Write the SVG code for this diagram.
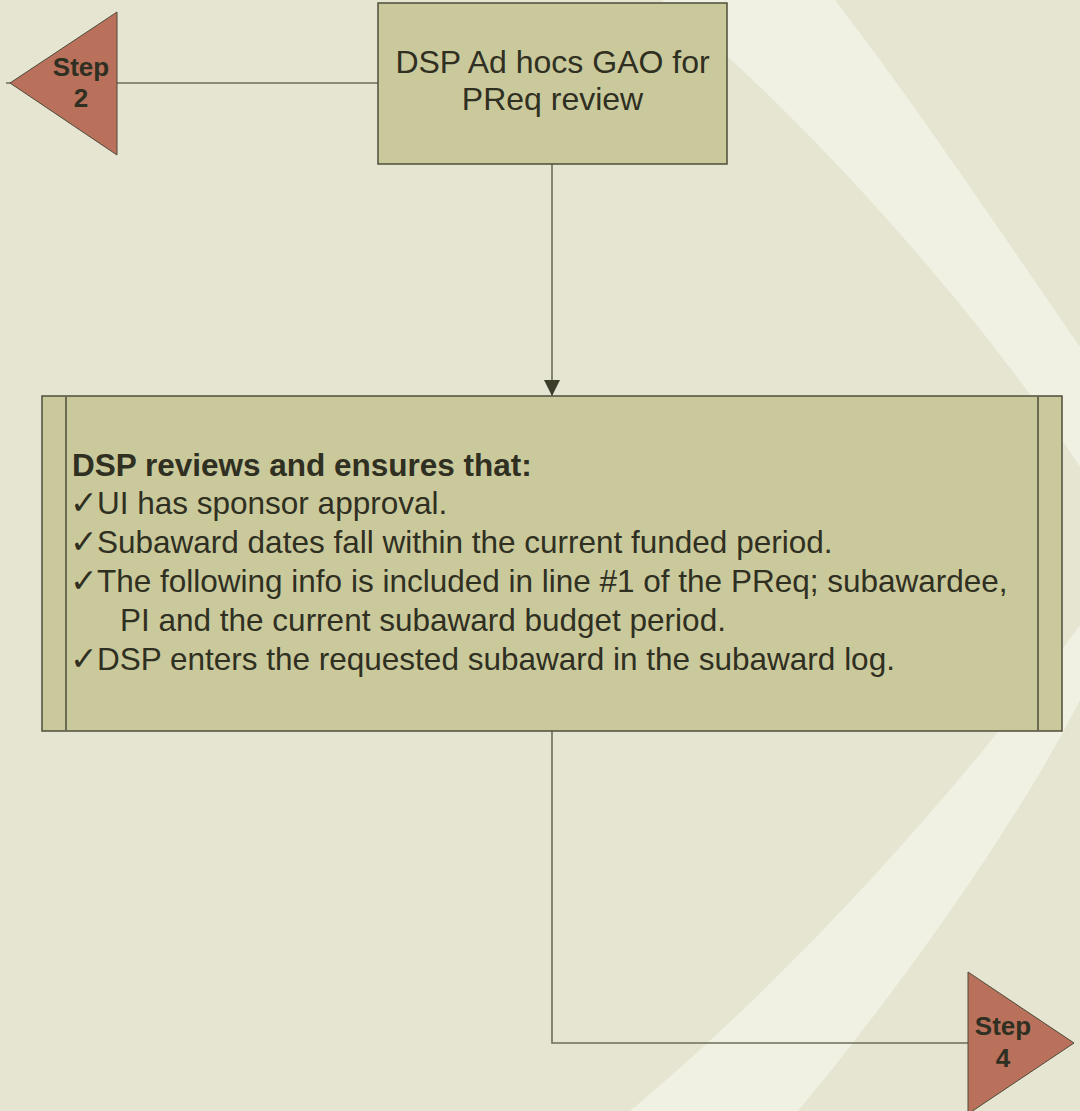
<svg xmlns="http://www.w3.org/2000/svg" width="1080" height="1111" viewBox="0 0 1080 1111">
  <defs>
    <style>
      .bg { fill: #e6e5d2; }
      .band { fill: #f0f0e3; }
      .box { fill: #cac99b; stroke: #4d4d3b; stroke-width: 1.5; }
      .inner { stroke: #6a6a52; stroke-width: 2; fill: none; }
      .step { fill: #b9715b; stroke: #4d4a3a; stroke-width: 1; }
      .wire { fill: none; stroke: #6c6c57; stroke-width: 1.6; }
      .txt { font-family: "Liberation Sans", Arial, sans-serif; fill: #2f2f22; }
      .lbl { font-size: 32px; }
      .body { font-size: 31.5px; }
      .steplbl { font-size: 26px; font-weight: bold; text-anchor: middle; }
      .check { font-family: "DejaVu Sans", sans-serif; font-size: 33px; }
    </style>
    <marker id="arrow" markerUnits="userSpaceOnUse" markerWidth="16" markerHeight="16" viewBox="0 0 14 14" refX="14" refY="7" orient="auto">
      <path d="M0,0 L14,7 L0,14 Z" fill="#3d3d2c"/>
    </marker>
  </defs>

  <!-- backdrop with the pale sweeping band -->
  <rect class="bg" x="0" y="0" width="1080" height="1111"/>
  <path class="band" d="M662,0 C810,120 985,320 1080,467 C1110,510 1110,580 1080,625 C975,770 810,960 630,1111 L798,1111 C898,991 1020,820 1080,700 C1160,600 1160,460 1080,347 C1000,231 915,104 835,0 Z"/>

  <!-- connectors -->
  <g id="connectors">
    <line class="wire" x1="378" y1="83" x2="6" y2="83"/>
    <line class="wire" x1="552" y1="164" x2="552" y2="396" marker-end="url(#arrow)"/>
    <polyline class="wire" points="552,731 552,1043 968,1043"/>
  </g>

  <!-- off-page reference: step 2 -->
  <g id="step2">
    <polygon class="step" points="10,83 117,12 117,155"/>
    <text class="txt steplbl" x="81" y="76">Step</text>
    <text class="txt steplbl" x="81" y="107">2</text>
  </g>

  <!-- ad hoc routing box -->
  <g id="adhoc">
    <rect class="box" x="378" y="3" width="349" height="161"/>
    <text class="txt lbl" text-anchor="middle" x="552.5" y="73">DSP Ad hocs GAO for</text>
    <text class="txt lbl" text-anchor="middle" x="552.5" y="110">PReq review</text>
  </g>

  <!-- review process box -->
  <g id="review">
    <rect class="box" x="42" y="396" width="1020" height="335"/>
    <line class="inner" x1="66" y1="396" x2="66" y2="731"/>
    <line class="inner" x1="1038" y1="396" x2="1038" y2="731"/>
    <text class="txt body" font-weight="bold" x="72" y="476">DSP reviews and ensures that:</text>
    <text class="txt body" x="70" y="514"><tspan class="check">✓</tspan><tspan x="97">UI has sponsor approval.</tspan></text>
    <text class="txt body" x="70" y="553"><tspan class="check">✓</tspan><tspan x="97">Subaward dates fall within the current funded period.</tspan></text>
    <text class="txt body" x="70" y="592"><tspan class="check">✓</tspan><tspan x="97">The following info is included in line #1 of the PReq; subawardee,</tspan></text>
    <text class="txt body" x="120" y="631">PI and the current subaward budget period.</text>
    <text class="txt body" x="70" y="670"><tspan class="check">✓</tspan><tspan x="97">DSP enters the requested subaward in the subaward log.</tspan></text>
  </g>

  <!-- off-page reference: step 4 -->
  <g id="step4">
    <polygon class="step" points="968,972 1074,1043 968,1114"/>
    <text class="txt steplbl" x="1003" y="1035">Step</text>
    <text class="txt steplbl" x="1003" y="1067">4</text>
  </g>
</svg>
